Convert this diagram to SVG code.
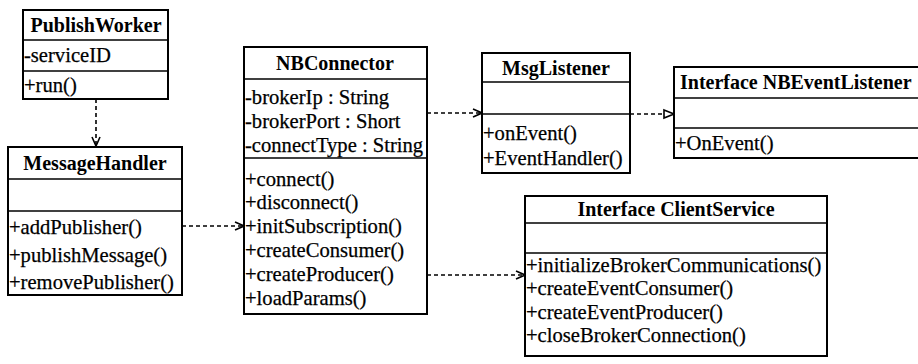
<svg xmlns="http://www.w3.org/2000/svg" width="918" height="364" viewBox="0 0 918 364">
  <style>
    .box { fill: #ffffff; stroke: #000000; stroke-width: 2; }
    .sep { stroke: #000000; stroke-width: 1.6; }
    .title { font-family: "Liberation Serif", "Times New Roman", serif; font-size: 20px; font-weight: bold; fill: #000000; }
    .member { font-family: "Liberation Serif", "Times New Roman", serif; font-size: 20.6px; fill: #000000; stroke: #000000; stroke-width: 0.25; }
    .dep { fill: none; stroke: #000000; stroke-width: 1.6; stroke-dasharray: 4 3; }
  </style>
  <defs>
    <marker id="openArrow" viewBox="0 0 10 10" refX="10" refY="5" markerWidth="10" markerHeight="10" markerUnits="userSpaceOnUse" orient="auto">
      <path d="M1,1 L10,5 L1,9" fill="none" stroke="#000000" stroke-width="1.6"/>
    </marker>
    <marker id="hollowTriangle" viewBox="0 0 12 12" refX="11" refY="6" markerWidth="12" markerHeight="12" markerUnits="userSpaceOnUse" orient="auto">
      <path d="M1,2 L11,6 L1,10 Z" fill="#ffffff" stroke="#000000" stroke-width="1.6"/>
    </marker>
  </defs>

  <rect width="918" height="364" fill="#ffffff"/>

  <!-- dependency and realization connectors -->
  <g id="connectors">
    <path class="dep" d="M96,99 V146" marker-end="url(#openArrow)"/>
    <path class="dep" d="M182,226 H244" marker-end="url(#openArrow)"/>
    <path class="dep" d="M427,113 H482" marker-end="url(#openArrow)"/>
    <path class="dep" d="M630,114 H674" marker-end="url(#hollowTriangle)"/>
    <path class="dep" d="M427,275 H525" marker-end="url(#openArrow)"/>
  </g>

  <g id="PublishWorker">
    <rect class="box" x="23" y="10" width="145" height="89"/>
    <line class="sep" x1="23" y1="40" x2="168" y2="40"/>
    <line class="sep" x1="23" y1="71" x2="168" y2="71"/>
    <text class="title" x="96" y="32" text-anchor="middle">PublishWorker</text>
    <text class="member" x="24" y="62">-serviceID</text>
    <text class="member" x="24" y="92">+run()</text>
  </g>

  <g id="MessageHandler">
    <rect class="box" x="8" y="147" width="174" height="148"/>
    <line class="sep" x1="8" y1="179" x2="182" y2="179"/>
    <line class="sep" x1="8" y1="211" x2="182" y2="211"/>
    <text class="title" x="95" y="170" text-anchor="middle">MessageHandler</text>
    <text class="member" x="9" y="234">+addPublisher()</text>
    <text class="member" x="9" y="262">+publishMessage()</text>
    <text class="member" x="9" y="289">+removePublisher()</text>
  </g>

  <g id="NBConnector">
    <rect class="box" x="244" y="47" width="183" height="267"/>
    <line class="sep" x1="244" y1="79" x2="427" y2="79"/>
    <line class="sep" x1="244" y1="158" x2="427" y2="158"/>
    <text class="title" x="335" y="70" text-anchor="middle">NBConnector</text>
    <text class="member" x="245" y="104">-brokerIp : String</text>
    <text class="member" x="245" y="128">-brokerPort : Short</text>
    <text class="member" x="245" y="152">-connectType : String</text>
    <text class="member" x="245" y="186">+connect()</text>
    <text class="member" x="245" y="209">+disconnect()</text>
    <text class="member" x="245" y="233">+initSubscription()</text>
    <text class="member" x="245" y="257">+createConsumer()</text>
    <text class="member" x="245" y="281">+createProducer()</text>
    <text class="member" x="245" y="305">+loadParams()</text>
  </g>

  <g id="MsgListener">
    <rect class="box" x="482" y="53" width="148" height="120"/>
    <line class="sep" x1="482" y1="82" x2="630" y2="82"/>
    <line class="sep" x1="482" y1="114" x2="630" y2="114"/>
    <text class="title" x="556" y="75" text-anchor="middle">MsgListener</text>
    <text class="member" x="483" y="140">+onEvent()</text>
    <text class="member" x="483" y="165">+EventHandler()</text>
  </g>

  <g id="NBEventListener">
    <rect class="box" x="674" y="67" width="252" height="91"/>
    <line class="sep" x1="674" y1="98" x2="918" y2="98"/>
    <line class="sep" x1="674" y1="128" x2="918" y2="128"/>
    <text class="title" x="680" y="89">Interface NBEventListener</text>
    <text class="member" x="675" y="150">+OnEvent()</text>
  </g>

  <g id="ClientService">
    <rect class="box" x="525" y="196" width="302" height="160"/>
    <line class="sep" x1="525" y1="223" x2="827" y2="223"/>
    <line class="sep" x1="525" y1="253" x2="827" y2="253"/>
    <text class="title" x="676" y="216" text-anchor="middle">Interface ClientService</text>
    <text class="member" x="526" y="272">+initializeBrokerCommunications()</text>
    <text class="member" x="526" y="295">+createEventConsumer()</text>
    <text class="member" x="526" y="319">+createEventProducer()</text>
    <text class="member" x="526" y="342">+closeBrokerConnection()</text>
  </g>
</svg>
